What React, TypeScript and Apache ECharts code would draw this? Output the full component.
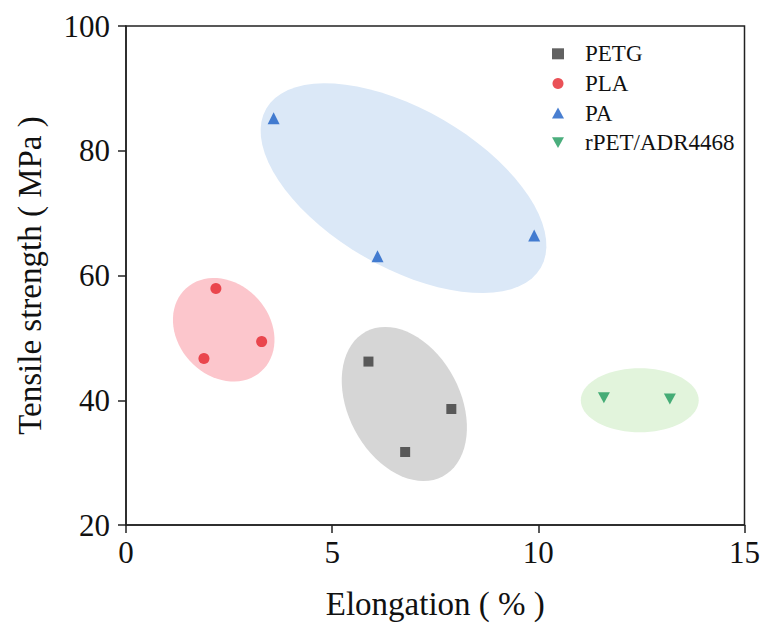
import React, { useEffect, useRef } from "react";
import * as echarts from "echarts";

// Scatter data: [elongation %, tensile strength MPa]
const petg = [
  [5.88, 46.2],
  [7.89, 38.6],
  [6.77, 31.7],
];
const pla = [
  [2.18, 57.9],
  [1.89, 46.7],
  [3.29, 49.4],
];
const pa = [
  [3.58, 85.2],
  [6.1, 63.1],
  [9.9, 66.4],
];
const rpet = [
  [11.59, 40.4],
  [13.19, 40.2],
];

// Ellipse regions in data units: [cx, cy, ux, uy, vx, vy] (centre + two conjugate semi-axis vectors)
const ellipsePA = [6.73, 74.0, 3.33, -12.75, -0.96, -10.97];
const ellipsePLA = [2.37, 51.3, 0.91, -6.67, -0.83, -4.94];
const ellipsePETG = [6.75, 39.4, 0.93, -11.61, -1.2, -4.22];
const ellipseRPET = [12.46, 40.0, 1.43, 0, 0, -5.13];

const seriesNames = ["PETG", "PLA", "PA", "rPET/ADR4468"];
const xTicks = [0, 15, 5];
const yTicks = [20, 100, 20];

const FONT = "Liberation Serif";
const INV_TRI = "path://M0,0 L10,0 L5,9 Z";

function ellipseSeries(values: number[], color: string) {
  return {
    type: "custom",
    silent: true,
    z: 1,
    data: [values],
    renderItem: (params: any, api: any) => {
      const cx = api.value(0);
      const cy = api.value(1);
      const ux = api.value(2);
      const uy = api.value(3);
      const vx = api.value(4);
      const vy = api.value(5);
      const pts: number[][] = [];
      const n = 72;
      for (let i = 0; i < n; i++) {
        const t = (i / n) * Math.PI * 2;
        const c = Math.cos(t);
        const s = Math.sin(t);
        pts.push(api.coord([cx + ux * c + vx * s, cy + uy * c + vy * s]));
      }
      return {
        type: "polygon",
        shape: { points: pts },
        style: { fill: color },
      };
    },
  };
}

export default function App() {
  const ref = useRef<HTMLDivElement>(null);
  useEffect(() => {
    if (!ref.current) return;
    const chart = echarts.init(ref.current, null, { renderer: "svg" });
    chart.setOption({
      animation: false,
      backgroundColor: "#fff",
      grid: {
        left: 126,
        right: 17,
        top: 26,
        bottom: 103,
        show: true,
        borderColor: "#222",
        borderWidth: 1.5,
      },
      legend: {
        data: [
          { name: "PETG", icon: "rect" },
          { name: "PLA", icon: "circle" },
          { name: "PA", icon: "triangle" },
          { name: "rPET/ADR4468", icon: INV_TRI },
        ],
        orient: "vertical",
        left: 547,
        top: 34,
        itemGap: 0,
        itemWidth: 12,
        itemHeight: 11,
        textStyle: {
          fontFamily: FONT,
          fontSize: 23,
          lineHeight: 29.6,
          color: "#111",
          padding: [0, 0, 0, 16],
        },
      },
      xAxis: {
        type: "value",
        min: xTicks[0],
        max: xTicks[1],
        interval: xTicks[2],
        name: "Elongation ( % )",
        nameLocation: "middle",
        nameGap: 62,
        nameTextStyle: { fontFamily: FONT, fontSize: 33, color: "#111" },
        axisLine: { show: true, lineStyle: { color: "#222", width: 1.5 } },
        axisTick: { show: true, length: 8, lineStyle: { color: "#222", width: 1.5 } },
        axisLabel: { fontFamily: FONT, fontSize: 31, color: "#111", margin: 12 },
        splitLine: { show: false },
      },
      yAxis: {
        type: "value",
        min: yTicks[0],
        max: yTicks[1],
        interval: yTicks[2],
        name: "Tensile strength ( MPa )",
        nameLocation: "middle",
        nameGap: 80,
        nameTextStyle: { fontFamily: FONT, fontSize: 33, color: "#111" },
        axisLine: { show: true, lineStyle: { color: "#222", width: 1.5 } },
        axisTick: { show: true, length: 8, lineStyle: { color: "#222", width: 1.5 } },
        axisLabel: { fontFamily: FONT, fontSize: 31, color: "#111", margin: 16 },
        splitLine: { show: false },
      },
      series: [
        ellipseSeries(ellipsePA, "#dbe8f7"),
        ellipseSeries(ellipsePLA, "#fcc6cc"),
        ellipseSeries(ellipsePETG, "#d6d6d6"),
        ellipseSeries(ellipseRPET, "#e2f4dc"),
        {
          name: seriesNames[0],
          type: "scatter",
          data: petg,
          symbol: "rect",
          symbolSize: 10,
          itemStyle: { color: "#3a3a3a" },
          z: 3,
        },
        {
          name: seriesNames[1],
          type: "scatter",
          data: pla,
          symbol: "circle",
          symbolSize: 11,
          itemStyle: { color: "#e5262d" },
          z: 3,
        },
        {
          name: seriesNames[2],
          type: "scatter",
          data: pa,
          symbol: "triangle",
          symbolSize: 12,
          itemStyle: { color: "#1c5fc6" },
          z: 3,
        },
        {
          name: seriesNames[3],
          type: "scatter",
          data: rpet,
          symbol: INV_TRI,
          symbolSize: [12, 11],
          itemStyle: { color: "#1e9a5c" },
          z: 3,
        },
      ],
    });
    return () => chart.dispose();
  }, []);
  return (
    <div
      ref={ref}
      style={{ position: "absolute", left: 0, top: 0, width: 763, height: 628 }}
    />
  );
}
